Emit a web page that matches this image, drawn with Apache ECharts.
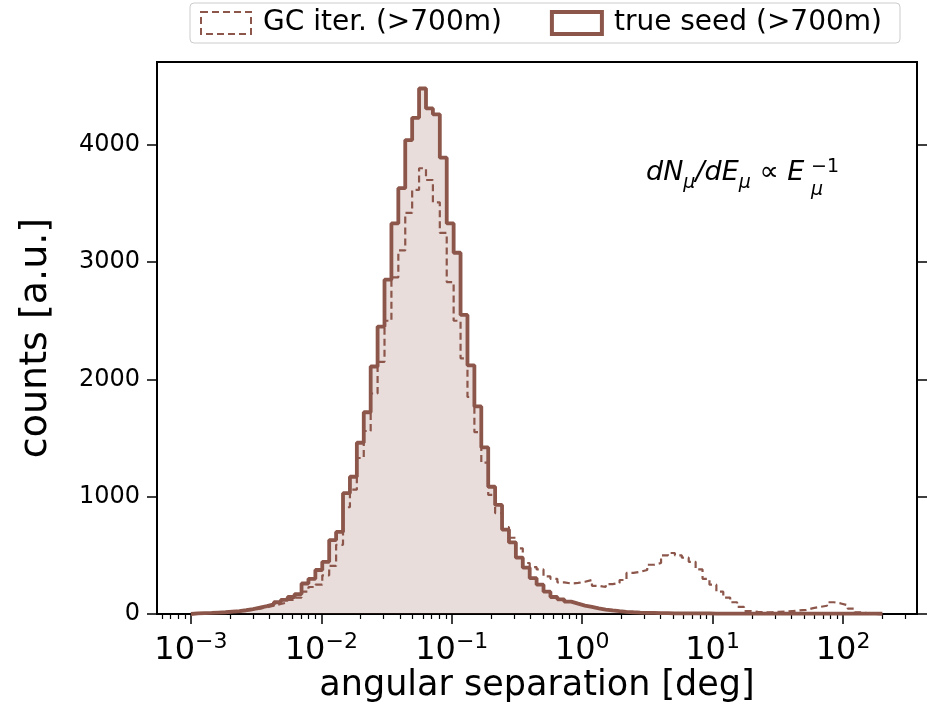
<!DOCTYPE html>
<html><head><meta charset="utf-8">
<script src="https://cdn.jsdelivr.net/npm/echarts@6/dist/echarts.min.js"></script>
<style>html,body{margin:0;padding:0;background:#fff}#c{width:939px;height:704px}</style>
</head><body><div id="c"></div>
<script>
// Histogram bins: log-spaced from 10^-3 to ~200 deg
const binLogMin = -3;
const binLogMax = 2.301;
const nBins = 100;

// true seed (>700m) counts per bin
const trueSeed = [
  5, 7, 9, 12, 15, 20, 25, 32, 42, 55,
  68, 82, 100, 120, 145, 170, 260, 300, 375, 445,
  630, 700, 1030, 1170, 1460, 1720, 2110, 2450, 2850, 3330,
  3630, 4040, 4230, 4480, 4310, 4260, 3890, 3330, 3080, 2550,
  2120, 1770, 1420, 1085, 930, 720, 610, 480, 395, 305,
  250, 190, 145, 125, 105, 88, 72, 60, 48, 38,
  30, 24, 19, 15, 12, 10, 9, 8, 7, 6,
  6, 5, 5, 5, 5, 4, 4, 4, 4, 4,
  4, 4, 4, 4, 4, 4, 4, 4, 4, 4,
  4, 4, 4, 4, 4, 4, 3, 3, 3, 2
];
// GC iter. (>700m) counts per bin
const gcIter = [
  4, 6, 8, 10, 13, 17, 22, 28, 36, 46,
  58, 70, 85, 100, 120, 140, 190, 230, 250, 330,
  410, 590, 910, 1060, 1330, 1560, 1880, 2150, 2500, 2870,
  3100, 3420, 3615, 3800, 3700, 3510, 3250, 2830, 2500, 2180,
  1850, 1550, 1290, 1015, 860, 740, 650, 560, 435, 400,
  380, 320, 300, 270, 260, 265, 275, 290, 240, 230,
  255, 265, 290, 350, 360, 375, 420, 435, 500, 520,
  500, 480, 445, 380, 300, 250, 190, 140, 100, 60,
  25, 18, 15, 15, 18, 20, 25, 30, 35, 50,
  60, 70, 100, 90, 75, 45, 15, 5, 3, 2
];

const seriesNames = ['GC iter. (>700m)', 'true seed (>700m)'];
const xMajorTicks = [1e-3, 1e-2, 1e-1, 1, 10, 100];
const xMinorTicks = [6e-4, 7e-4, 8e-4, 9e-4,
  2e-3, 3e-3, 4e-3, 5e-3, 6e-3, 7e-3, 8e-3, 9e-3,
  2e-2, 3e-2, 4e-2, 5e-2, 6e-2, 7e-2, 8e-2, 9e-2,
  0.2, 0.3, 0.4, 0.5, 0.6, 0.7, 0.8, 0.9,
  2, 3, 4, 5, 6, 7, 8, 9,
  20, 30, 40, 50, 60, 70, 80, 90,
  200, 300];
const yTicks = [0, 1000, 2000, 3000, 4000];
const xTitle = 'angular separation [deg]';
const yTitle = 'counts [a.u.]';

const xMin = Math.pow(10, -3.26), xMax = Math.pow(10, 2.567);
const yMin = 0, yMax = 4706;

const edges = [];
for (let k = 0; k <= nBins; k++) edges.push(Math.pow(10, binLogMin + k * (binLogMax - binLogMin) / nBins));
function stepData(counts) {
  const d = [[edges[0], 0]];
  counts.forEach((c, i) => d.push([edges[i], c]));
  d.push([edges[nBins], 0]);
  return d;
}

const brown = '#8c564b';
const FONT = 'DejaVu Sans';
const chart = echarts.init(document.getElementById('c'), null, {renderer: 'canvas'});

function supLabel(v) {
  const e = Math.round(Math.log10(v));
  return '{b|10}{s|' + String(e).replace('-', '\u2212') + '}';
}

chart.setOption({
  animation: false,
  backgroundColor: '#fff',
  textStyle: {fontFamily: FONT},
  grid: {left: 157, right: 22, top: 62, bottom: 90, containLabel: false, outerBoundsMode: 'none',
    show: true, borderColor: '#000', borderWidth: 2, backgroundColor: 'transparent'},
  legend: {
    left: 190, top: 3, orient: 'horizontal',
    padding: [6, 18, 6, 10], itemGap: 48,
    borderColor: '#cccccc', borderWidth: 1, borderRadius: 4,
    icon: 'rect', itemWidth: 50, itemHeight: 22,
    textStyle: {fontSize: 28, color: '#000', fontFamily: FONT, padding: [0, 0, 0, 7]},
    data: [
      {name: seriesNames[0], icon: 'rect', itemStyle: {color: '#fff', borderColor: brown, borderWidth: 2, borderType: [7, 4]}},
      {name: seriesNames[1], icon: 'rect', itemStyle: {color: '#fff', borderColor: brown, borderWidth: 4, borderType: 'solid'}}
    ]
  },
  xAxis: [
    {
      type: 'log', logBase: 10, min: xMin, max: xMax, position: 'bottom',
      name: xTitle, nameLocation: 'middle', nameGap: 54, nameMoveOverlap: false,
      nameTextStyle: {fontSize: 35, color: '#000', fontFamily: FONT},
      axisLine: {show: true, onZero: false, lineStyle: {color: '#000', width: 2}},
      axisTick: {show: true, inside: false, length: 10, customValues: xMajorTicks, lineStyle: {color: '#000', width: 1.5}},
      axisLabel: {show: true, customValues: xMajorTicks, margin: 17, formatter: supLabel, color: '#000',
        rich: {b: {fontSize: 32, fontFamily: FONT, verticalAlign: 'bottom', lineHeight: 36},
               s: {fontSize: 22, fontFamily: FONT, verticalAlign: 'top', lineHeight: 22}}},
      splitLine: {show: false}, minorTick: {show: false}
    },
    {
      type: 'log', logBase: 10, min: xMin, max: xMax, position: 'bottom',
      axisLine: {show: false},
      axisTick: {show: true, inside: false, length: 5, customValues: xMinorTicks, lineStyle: {color: '#000', width: 1.2}},
      axisLabel: {show: false}, splitLine: {show: false}
    }
  ],
  yAxis: [
    {
      type: 'value', min: yMin, max: yMax, position: 'left',
      name: yTitle, nameLocation: 'middle', nameGap: 102, nameRotate: 90,
      nameTextStyle: {fontSize: 38, color: '#000', fontFamily: FONT},
      axisLine: {show: true, lineStyle: {color: '#000', width: 2}},
      axisTick: {show: true, inside: false, length: 10, customValues: yTicks, lineStyle: {color: '#000', width: 1.5}},
      axisLabel: {show: true, customValues: yTicks, margin: 17, fontSize: 24, color: '#000', fontFamily: FONT,
        formatter: v => String(v)},
      splitLine: {show: false}
    },
    {
      type: 'value', min: yMin, max: yMax, position: 'right',
      axisLine: {show: true, lineStyle: {color: '#000', width: 2}},
      axisTick: {show: true, inside: false, length: 10, customValues: yTicks, lineStyle: {color: '#000', width: 1.5}},
      axisLabel: {show: false}, splitLine: {show: false}
    }
  ],
  series: [
    {
      name: seriesNames[1], type: 'line', xAxisIndex: 0, yAxisIndex: 0,
      step: 'end', symbol: 'none', data: stepData(trueSeed),
      lineStyle: {color: brown, width: 3.8}, itemStyle: {color: brown},
      areaStyle: {color: 'rgba(140,86,75,0.2)', opacity: 1},
      z: 2
    },
    {
      name: seriesNames[0], type: 'line', xAxisIndex: 0, yAxisIndex: 0,
      step: 'end', symbol: 'none', data: stepData(gcIter),
      lineStyle: {color: brown, width: 2.2, type: [7, 4]}, itemStyle: {color: brown},
      z: 3
    }
  ],
  graphic: [
    {type: 'text', left: 646, top: 158, z: 10, style: {
      text: '{i|dN}{sb|\u03bc}{i|/dE}{sb|\u03bc}{n| \u221d }{i|E}',
      rich: {
        i: {fontSize: 27, fontStyle: 'italic', fontFamily: FONT, fill: '#000', verticalAlign: 'top', lineHeight: 34},
        n: {fontSize: 27, fontFamily: FONT, fill: '#000', verticalAlign: 'top', lineHeight: 34},
        sb: {fontSize: 19, fontStyle: 'italic', fontFamily: FONT, fill: '#000', verticalAlign: 'bottom', lineHeight: 22, padding: [16, 0, 0, 0]}
      }
    }},
    {type: 'text', left: 811, top: 158, z: 10, style: {text: '\u22121', fontSize: 19, fontFamily: FONT, fill: '#000'}},
    {type: 'text', left: 811, top: 181, z: 10, style: {text: '\u03bc', fontSize: 19, fontStyle: 'italic', fontFamily: FONT, fill: '#000'}}
  ]
});
</script>
</body></html>
